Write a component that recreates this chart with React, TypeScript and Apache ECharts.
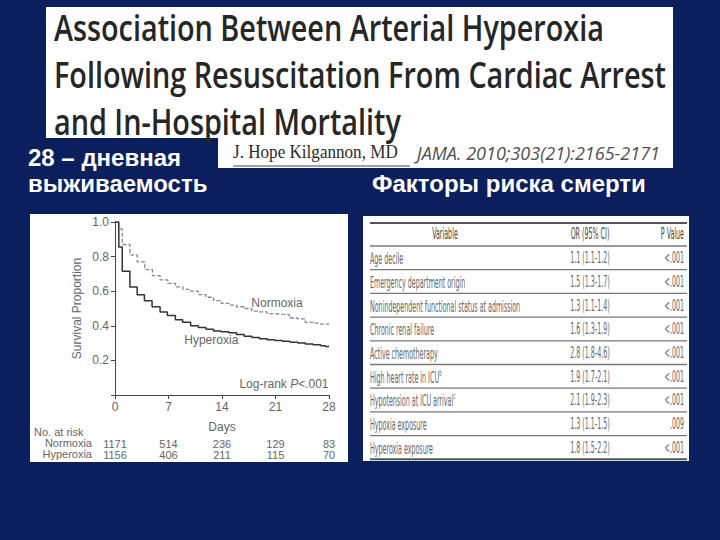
import React, { useEffect, useRef } from "react";
import * as echarts from "echarts";

// ---------- text content ----------
const titleLines = [
  "Association Between Arterial Hyperoxia",
  "Following Resuscitation From Cardiac Arrest",
  "and In-Hospital Mortality",
];
const authorText = "J. Hope Kilgannon, MD";
const citationText = "JAMA. 2010;303(21):2165-2171";
const leftCaption = ["28 – дневная", "выживаемость"];
const rightCaption = "Факторы риска смерти";

// ---------- Kaplan-Meier data (day, survival proportion) ----------
const normoxiaDays = [0, 0.45, 0.95, 1.95, 2.9, 3.9, 4.9, 5.9, 6.9, 7.9, 8.9, 9.9, 10.9, 11.9, 12.9, 13.9, 14.9, 15.9, 16.9, 17.9, 18.9, 19.9, 20.9, 21.9, 22.8, 23.9, 24.9, 25.9, 26.9, 28];
const normoxiaSurvival = [1.0, 0.96, 0.87, 0.81, 0.77, 0.725, 0.69, 0.665, 0.645, 0.625, 0.61, 0.6, 0.58, 0.565, 0.545, 0.53, 0.52, 0.51, 0.5, 0.485, 0.48, 0.47, 0.467, 0.465, 0.445, 0.44, 0.42, 0.415, 0.41, 0.41];
const hyperoxiaDays = [0, 0.5, 0.95, 1.95, 2.9, 3.85, 4.85, 5.9, 6.85, 7.9, 8.85, 9.9, 10.9, 11.9, 12.9, 13.9, 14.9, 15.9, 16.9, 17.9, 18.9, 19.9, 20.9, 21.9, 22.9, 23.9, 24.9, 25.9, 26.9, 27.5, 28];
const hyperoxiaSurvival = [1.0, 0.855, 0.715, 0.625, 0.58, 0.545, 0.51, 0.48, 0.46, 0.435, 0.42, 0.4, 0.39, 0.38, 0.37, 0.365, 0.36, 0.35, 0.34, 0.333, 0.325, 0.32, 0.315, 0.31, 0.305, 0.3, 0.295, 0.29, 0.285, 0.28, 0.28];

const dayTicks = [0, 7, 14, 21, 28];
const atRiskNormoxia = [1171, 514, 236, 129, 83];
const atRiskHyperoxia = [1156, 406, 211, 115, 70];

// ---------- risk factor table ----------
const tableHeader = ["Variable", "OR (95% CI)", "P Value"];
const variables = [
  "Age decile",
  "Emergency department origin",
  "Nonindependent functional status at admission",
  "Chronic renal failure",
  "Active chemotherapy",
  "High heart rate in ICU",
  "Hypotension at ICU arrival",
  "Hypoxia exposure",
  "Hyperoxia exposure",
];
const variableNotes = ["", "", "", "", "", "b", "c", "", ""];
const oddsRatios = ["1.1 (1.1-1.2)", "1.5 (1.3-1.7)", "1.3 (1.1-1.4)", "1.6 (1.3-1.9)", "2.8 (1.8-4.6)", "1.9 (1.7-2.1)", "2.1 (1.9-2.3)", "1.3 (1.1-1.5)", "1.8 (1.5-2.2)"];
const pValues = ["<.001", "<.001", "<.001", "<.001", "<.001", "<.001", "<.001", ".009", "<.001"];

const BG = "#0b1e5d";
const SANS = "'Liberation Sans', Arial, sans-serif";
const NARROW = "'Liberation Sans Narrow', 'DejaVu Sans Condensed', sans-serif";

export default function App() {
  const ref = useRef<HTMLDivElement>(null);

  useEffect(() => {
    if (!ref.current) return;
    const chart = echarts.init(ref.current, undefined, { renderer: "svg" });

    const zip = (xs: number[], ys: number[]) => xs.map((x, i) => [x, ys[i]]);

    const graphics: any[] = [];
    // white panels
    graphics.push({ type: "rect", z: -10, shape: { x: 46, y: 7, width: 627, height: 131 }, style: { fill: "#ffffff" } });
    graphics.push({ type: "rect", z: -10, shape: { x: 218, y: 137, width: 455, height: 31 }, style: { fill: "#ffffff" } });
    graphics.push({ type: "rect", z: -10, shape: { x: 30, y: 214, width: 318, height: 248 }, style: { fill: "#ffffff" } });
    graphics.push({ type: "rect", z: -10, shape: { x: 363, y: 216, width: 326, height: 245 }, style: { fill: "#ffffff" } });

    // title
    const titleY = [27, 74, 121];
    titleLines.forEach((t, i) => {
      graphics.push({
        type: "text", x: 54, y: titleY[i], scaleX: 0.8, z: 5,
        style: { text: t, fill: "#262626", font: "600 36px 'Open Sans', sans-serif", align: "left", verticalAlign: "middle" },
      });
    });
    // author + citation
    graphics.push({
      type: "text", x: 233, y: 152, z: 5, scaleX: 0.95,
      style: { text: authorText, fill: "#2a2a2a", font: "18px 'Liberation Serif', serif", align: "left", verticalAlign: "middle" },
    });
    graphics.push({ type: "line", z: 5, shape: { x1: 233, y1: 166, x2: 410, y2: 166 }, style: { stroke: "#444", lineWidth: 1 } });
    graphics.push({
      type: "text", x: 660, y: 152, z: 5, scaleX: 0.95,
      style: { text: citationText, fill: "#505050", font: "italic 19px 'Open Sans', sans-serif", align: "right", verticalAlign: "middle" },
    });

    // captions
    const capFont = `bold 24px ${SANS}`;
    graphics.push({ type: "text", x: 28, y: 157, z: 5, style: { text: leftCaption[0], fill: "#fff", font: capFont, verticalAlign: "middle" } });
    graphics.push({ type: "text", x: 28, y: 183, z: 5, style: { text: leftCaption[1], fill: "#fff", font: capFont, verticalAlign: "middle" } });
    graphics.push({ type: "text", x: 372, y: 183, z: 5, style: { text: rightCaption, fill: "#fff", font: capFont, verticalAlign: "middle" } });

    // at-risk row headers
    const riskFont = `11px ${SANS}`;
    graphics.push({ type: "text", x: 34, y: 432, z: 5, style: { text: "No. at risk", fill: "#666", font: riskFont, verticalAlign: "middle" } });
    graphics.push({ type: "text", x: 92, y: 443, z: 5, style: { text: "Normoxia", fill: "#666", font: riskFont, align: "right", verticalAlign: "middle" } });
    graphics.push({ type: "text", x: 92, y: 454, z: 5, style: { text: "Hyperoxia", fill: "#666", font: riskFont, align: "right", verticalAlign: "middle" } });

    // table
    const tLeft = 370, tRight = 687;
    const rowH = 23.7;
    const headerY = 234;
    const firstRowY = 258;
    const tableTextColor = "#666";
    const sx = 0.47;
    const tSize = 15;
    const tFont = `${tSize}px ${NARROW}`;
    graphics.push({ type: "line", z: 5, shape: { x1: tLeft, y1: 223, x2: tRight, y2: 223 }, style: { stroke: "#555", lineWidth: 2 } });
    for (let i = 0; i <= variables.length; i++) {
      const y = 246 + rowH * i;
      const last = i === variables.length;
      graphics.push({ type: "line", z: 5, shape: { x1: tLeft, y1: y, x2: tRight, y2: y }, style: { stroke: last ? "#555" : "#777", lineWidth: last ? 2 : 1.3 } });
    }
    const colX = [tLeft, 590, 684];
    graphics.push({ type: "text", x: 445, y: headerY, z: 5, scaleX: sx, style: { text: tableHeader[0], fill: "#444", font: tFont, align: "center", verticalAlign: "middle" } });
    graphics.push({ type: "text", x: colX[1], y: headerY, z: 5, scaleX: sx, style: { text: tableHeader[1], fill: "#444", font: tFont, align: "center", verticalAlign: "middle" } });
    graphics.push({ type: "text", x: colX[2], y: headerY, z: 5, scaleX: sx, style: { text: tableHeader[2], fill: "#444", font: tFont, align: "right", verticalAlign: "middle" } });
    variables.forEach((v, i) => {
      const y = firstRowY + rowH * i;
      const note = variableNotes[i];
      graphics.push({
        type: "text", x: colX[0], y, z: 5, scaleX: sx,
        style: {
          text: note ? `{n|${v}}{s|${note}}` : `{n|${v}}`,
          rich: {
            n: { fill: tableTextColor, fontSize: tSize, fontFamily: NARROW, lineHeight: 17, verticalAlign: "bottom" },
            s: { fill: tableTextColor, fontSize: 9, fontFamily: NARROW, lineHeight: 17, verticalAlign: "top" },
          },
          align: "left", verticalAlign: "middle",
        },
      });
      graphics.push({ type: "text", x: colX[1], y, z: 5, scaleX: sx, style: { text: oddsRatios[i], fill: tableTextColor, font: tFont, align: "center", verticalAlign: "middle" } });
      graphics.push({ type: "text", x: colX[2], y, z: 5, scaleX: sx, style: { text: pValues[i], fill: tableTextColor, font: tFont, align: "right", verticalAlign: "middle" } });
    });

    const axisGray = "#444";
    const labelGray = "#666";
    const atRiskAxis = (vals: number[], offset: number) => ({
      type: "value", min: 0, max: 28, interval: 7, position: "bottom", offset, gridIndex: 0,
      axisLine: { show: false }, axisTick: { show: false }, splitLine: { show: false },
      axisLabel: {
        color: labelGray, fontSize: 11, fontFamily: SANS, margin: 0, lineHeight: 11,
        formatter: (v: number) => { const k = dayTicks.indexOf(v); return k >= 0 ? String(vals[k]) : ""; },
      },
    });

    chart.setOption({
      animation: false,
      backgroundColor: BG,
      grid: { left: 115, top: 222, width: 214, height: 173, containLabel: false },
      xAxis: [
        {
          type: "value", min: 0, max: 28, interval: 7,
          axisLine: { show: true, onZero: false, lineStyle: { color: axisGray, width: 1 } },
          axisTick: { show: true, length: 4, lineStyle: { color: axisGray } },
          splitLine: { show: false },
          axisLabel: { color: labelGray, fontSize: 12, fontFamily: SANS, margin: 6 },
          name: "Days", nameLocation: "middle", nameGap: 26,
          nameTextStyle: { color: labelGray, fontSize: 12, fontFamily: SANS },
        },
        atRiskAxis(atRiskNormoxia, 43),
        atRiskAxis(atRiskHyperoxia, 54),
      ],
      yAxis: {
        type: "value", min: 0, max: 1, interval: 0.2,
        axisLine: { show: true, lineStyle: { color: axisGray, width: 1 } },
        axisTick: { show: true, length: 4, lineStyle: { color: axisGray } },
        splitLine: { show: false },
        axisLabel: { color: labelGray, fontSize: 12, fontFamily: SANS, margin: 6, formatter: (v: number) => (v === 0 ? "" : v.toFixed(1)) },
        name: "Survival Proportion", nameLocation: "middle", nameGap: 32, nameRotate: 90,
        nameTextStyle: { color: labelGray, fontSize: 12, fontFamily: SANS },
      },
      graphic: graphics,
      series: [
        {
          name: "Normoxia", type: "line", step: "end", showSymbol: false, xAxisIndex: 0,
          data: zip(normoxiaDays, normoxiaSurvival),
          lineStyle: { color: "#8a8a8a", width: 1.3, type: [4, 2] },
          markPoint: {
            symbol: "circle", symbolSize: 1, itemStyle: { color: "rgba(0,0,0,0)" },
            data: [{ coord: [21.2, 0.53], value: 0 }],
            label: { show: true, position: "inside", formatter: "Normoxia", color: labelGray, fontSize: 12, fontFamily: SANS },
          },
        },
        {
          name: "Hyperoxia", type: "line", step: "end", showSymbol: false, xAxisIndex: 0,
          data: zip(hyperoxiaDays, hyperoxiaSurvival),
          lineStyle: { color: "#333", width: 1.5 },
          markPoint: {
            symbol: "circle", symbolSize: 1, itemStyle: { color: "rgba(0,0,0,0)" },
            data: [
              { coord: [12.6, 0.316], value: 0, label: { formatter: "Hyperoxia", position: "inside" } },
              { coord: [28, 0.062], value: 1, label: { formatter: "{a|Log-rank }{b|P}{a|<.001}", position: "left", distance: 0 } },
            ],
            label: {
              show: true, color: labelGray, fontSize: 12, fontFamily: SANS,
              rich: {
                a: { color: labelGray, fontSize: 12, fontFamily: SANS },
                b: { color: labelGray, fontSize: 12, fontFamily: SANS, fontStyle: "italic" },
              },
            },
          },
        },
      ],
    });

    return () => chart.dispose();
  }, []);

  return <div ref={ref} style={{ position: "fixed", left: 0, top: 0, width: 720, height: 540 }} />;
}
